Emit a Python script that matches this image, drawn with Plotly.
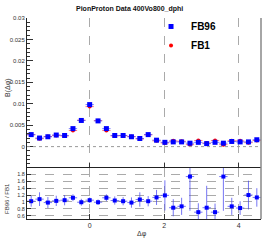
import numpy as np
import plotly.graph_objects as go

n_bins = 28
dphi = -np.pi / 2 + np.arange(n_bins) * (2 * np.pi / n_bins)
half_bin = [np.pi / n_bins] * n_bins

fb96 = [0.0028, 0.0020, 0.0023, 0.0027, 0.0026, 0.0042, 0.0061, 0.0098,
        0.0060, 0.0042, 0.0026, 0.0026, 0.0023, 0.0019, 0.0028, 0.0015,
        0.0010, 0.0011, 0.0011, 0.0008, 0.0010, 0.0007, 0.0010, 0.0008,
        0.0012, 0.0011, 0.0011, 0.0016]
fb96_err = [0.00012, 0.00010, 0.00011, 0.00012, 0.00012, 0.00015, 0.00018, 0.00022,
            0.00018, 0.00015, 0.00012, 0.00012, 0.00011, 0.00010, 0.00012, 0.00009,
            0.00008, 0.00008, 0.00008, 0.00007, 0.00008, 0.00007, 0.00008, 0.00007,
            0.00008, 0.00008, 0.00008, 0.00009]
fb1 = [0.00275, 0.00185, 0.00235, 0.00262, 0.00248, 0.00375, 0.00616, 0.00933,
       0.00606, 0.00375, 0.00250, 0.00255, 0.00235, 0.00178, 0.00275, 0.00134,
       0.00085, 0.00134, 0.00125, 0.00046, 0.00143, 0.00084, 0.00143, 0.00046,
       0.00136, 0.00134, 0.00092, 0.00142]
fb1_err = fb96_err

ratio = [1.02, 1.08, 0.98, 1.03, 1.05, 1.12, 0.99, 1.05,
         0.99, 1.12, 1.04, 1.02, 0.98, 1.07, 1.02, 1.13,
         1.19, 0.83, 0.87, 1.74, 0.70, 0.83, 0.70, 1.74,
         0.87, 0.82, 1.20, 1.13]
ratio_err = [0.16, 0.20, 0.16, 0.15, 0.15, 0.10, 0.10, 0.08,
             0.08, 0.10, 0.12, 0.12, 0.15, 0.21, 0.15, 0.22,
             0.44, 0.25, 0.25, 1.00, 0.26, 0.64, 0.25, 1.00,
             0.25, 0.20, 0.42, 0.27]

xr = [-np.pi / 2 - np.pi / n_bins, 3 * np.pi / 2 - np.pi / n_bins]
FONT = "Liberation Sans"
split = 0.2537

fig = go.Figure()
fig.add_trace(go.Scatter(
    x=dphi, y=fb1, mode="markers", name="FB1", legendrank=2,
    marker=dict(symbol="circle", size=4, color="#ff0000"),
    error_x=dict(type="data", array=half_bin, width=0, thickness=1, color="rgba(255,0,0,0.5)"),
    error_y=dict(type="data", array=fb1_err, width=0, thickness=1, color="rgba(255,0,0,0.5)"),
    xaxis="x", yaxis="y"))
fig.add_trace(go.Scatter(
    x=dphi, y=fb96, mode="markers", name="FB96", legendrank=1,
    marker=dict(symbol="square", size=5, color="#0000ff"),
    error_x=dict(type="data", array=half_bin, width=0, thickness=1, color="rgba(40,40,255,0.6)"),
    error_y=dict(type="data", array=fb96_err, width=0, thickness=1, color="rgba(40,40,255,0.6)"),
    xaxis="x", yaxis="y"))
fig.add_trace(go.Scatter(
    x=dphi, y=ratio, mode="markers", showlegend=False,
    marker=dict(symbol="square", size=4, color="#0000ff"),
    error_x=dict(type="data", array=half_bin, width=0, thickness=1, color="rgba(60,60,240,0.7)"),
    error_y=dict(type="data", array=ratio_err, width=0, thickness=1, color="rgba(60,60,240,0.7)"),
    xaxis="x2", yaxis="y2"))

grid = dict(showgrid=True, griddash="dash", gridcolor="#aaaaaa", gridwidth=1)

fig.update_layout(
    template="none",
    width=266, height=241,
    margin=dict(l=27, r=5, t=18, b=22, autoexpand=False),
    paper_bgcolor="white", plot_bgcolor="white",
    font=dict(family=FONT, color="#222"),
    xaxis=dict(domain=[0, 1], range=xr, anchor="y", showticklabels=False, automargin=False,
               tickmode="linear", tick0=0, dtick=2, ticks="inside", ticklen=5,
               tickcolor="#333", zeroline=False, showline=False, **grid),
    yaxis=dict(domain=[split, 1], range=[-0.00499, 0.03], anchor="x", automargin=False,
               tickmode="linear", tick0=0, dtick=0.005, ticks="inside", ticklen=6,
               tickcolor="#333", tickfont=dict(size=6, color="#333"),
               minor=dict(dtick=0.001, tick0=0, ticks="inside", ticklen=3, tickcolor="#333"),
               showline=True, linecolor="#222", linewidth=1, showgrid=False, zeroline=False),
    xaxis2=dict(domain=[0, 1], range=xr, anchor="y2", automargin=False,
                tickmode="linear", tick0=0, dtick=2, ticks="inside", ticklen=5,
                tickcolor="#333", tickfont=dict(size=7, color="#333"),
                zeroline=False, showline=True, mirror=True, linecolor="#222", linewidth=1, **grid),
    yaxis2=dict(domain=[0, split], range=[0.5, 1.99], anchor="x2", automargin=False,
                tickmode="linear", tick0=0, dtick=0.2, ticks="inside", ticklen=4,
                tickcolor="#333", tickfont=dict(size=5.5, color="#333"),
                showline=True, linecolor="#222", linewidth=1, zeroline=False, **grid),
    legend=dict(x=0.53, y=1.03, xanchor="left", yanchor="top", bgcolor="rgba(0,0,0,0)",
                font=dict(size=10, family=FONT, color="#000", weight="bold"),
                tracegroupgap=0),
    shapes=[
        dict(type="line", xref="x domain", yref="y", x0=0, x1=1, y0=0, y1=0,
             line=dict(color="#999999", width=1, dash="dot")),
        dict(type="line", xref="paper", yref="paper", x0=1, x1=1, y0=0, y1=1,
             line=dict(color="#888888", width=1.5)),
    ],
    annotations=[
        dict(text="<b>PionProton Data 400Vo800_dphi</b>", x=0.436, y=1.045,
             xref="paper", yref="paper", showarrow=False, xanchor="center", yanchor="middle",
             font=dict(size=7, color="#111")),
        dict(text="B(Δφ)", x=-0.081, y=0.652, xref="paper", yref="paper", showarrow=False,
             textangle=-90, xanchor="center", yanchor="middle", font=dict(size=7, color="#333")),
        dict(text="FB96 / FB1", x=-0.085, y=0.1, xref="paper", yref="paper", showarrow=False,
             textangle=-90, xanchor="center", yanchor="middle", font=dict(size=6, color="#333")),
        dict(text="Δφ", x=0.491, y=-0.075, xref="paper", yref="paper", showarrow=False,
             xanchor="center", yanchor="middle", font=dict(size=7, color="#333")),
    ],
)

fig.write_html("out.html", config={"displayModeBar": False},
               post_script="document.body.style.margin='0px';")
